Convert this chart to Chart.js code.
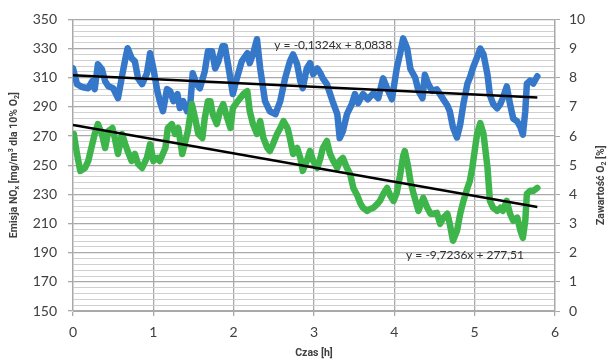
<!DOCTYPE html>
<html>
<head>
<meta charset="utf-8">
<script src="https://cdn.jsdelivr.net/npm/chart.js@4.4.1/dist/chart.umd.min.js"></script>
<style>
  html, body { margin: 0; padding: 0; background: #ffffff; }
  #wrap { width: 612px; height: 364px; }
</style>
</head>
<body>
<div id="wrap"><canvas id="chart" width="612" height="364"></canvas></div>
<script>
// O2 content [%] over time [h] (right axis)
const hoursO2 = [0.00,0.05,0.11,0.19,0.24,0.27,0.31,0.36,0.40,0.44,0.50,0.56,0.61,0.65,0.68,0.73,0.77,0.81,0.86,0.92,0.96,1.00,1.05,1.08,1.12,1.17,1.21,1.25,1.30,1.33,1.37,1.42,1.46,1.49,1.54,1.58,1.64,1.68,1.73,1.77,1.81,1.86,1.89,1.93,1.99,2.04,2.10,2.17,2.20,2.24,2.29,2.33,2.39,2.45,2.52,2.58,2.64,2.70,2.74,2.79,2.83,2.86,2.91,2.95,2.99,3.04,3.08,3.11,3.16,3.23,3.29,3.32,3.36,3.41,3.47,3.51,3.55,3.61,3.67,3.74,3.80,3.86,3.91,3.97,4.03,4.07,4.11,4.16,4.20,4.26,4.30,4.35,4.38,4.42,4.47,4.53,4.60,4.66,4.69,4.73,4.78,4.82,4.86,4.91,4.94,4.98,5.03,5.07,5.11,5.16,5.19,5.23,5.28,5.32,5.35,5.40,5.44,5.48,5.53,5.57,5.60,5.63,5.65,5.69,5.73,5.78];
const o2 = [8.32,7.78,7.68,7.64,7.88,7.61,8.46,8.29,7.88,7.71,7.64,7.30,8.05,8.63,9.01,8.67,8.56,7.98,7.78,8.15,8.84,8.32,7.54,7.20,6.85,7.61,7.54,7.20,7.44,6.96,7.20,6.85,7.09,8.15,7.78,7.64,8.22,8.91,8.91,8.32,8.56,9.08,9.08,8.46,7.44,7.98,8.56,8.84,8.50,8.80,9.32,8.32,7.20,6.85,6.75,7.20,7.98,8.56,8.80,8.46,7.88,7.64,8.32,8.50,8.12,8.32,8.15,7.98,7.78,7.20,6.75,5.93,6.17,6.75,7.09,7.44,7.13,7.44,7.26,7.47,7.30,7.98,7.64,7.26,8.32,8.80,9.35,9.00,8.30,8.00,7.55,7.30,8.10,7.80,7.55,7.60,7.30,7.05,6.85,6.30,5.95,6.40,7.10,7.80,8.00,8.35,8.70,9.00,8.80,8.10,7.40,7.10,6.95,7.10,7.30,7.70,7.10,6.60,6.50,6.30,6.05,6.85,7.80,7.90,7.80,8.05];

// NOx emission [mg/m3 at 10% O2] over time [h] (left axis)
const hoursNOx = [0.01,0.05,0.09,0.15,0.19,0.24,0.27,0.31,0.36,0.40,0.44,0.49,0.52,0.56,0.61,0.65,0.68,0.73,0.77,0.81,0.86,0.92,0.96,1.00,1.05,1.08,1.15,1.18,1.23,1.27,1.31,1.36,1.39,1.43,1.48,1.52,1.56,1.61,1.64,1.68,1.71,1.74,1.79,1.83,1.87,1.92,1.96,1.99,2.05,2.12,2.17,2.20,2.24,2.29,2.33,2.37,2.42,2.45,2.49,2.54,2.58,2.62,2.67,2.70,2.74,2.79,2.83,2.86,2.91,2.95,2.99,3.04,3.08,3.11,3.16,3.20,3.24,3.29,3.32,3.36,3.41,3.45,3.49,3.54,3.58,3.61,3.66,3.70,3.74,3.79,3.82,3.87,3.91,3.95,3.99,4.03,4.07,4.11,4.13,4.17,4.20,4.24,4.30,4.36,4.41,4.45,4.48,4.53,4.57,4.61,4.66,4.69,4.73,4.78,4.82,4.86,4.91,4.94,4.97,5.03,5.07,5.11,5.16,5.19,5.23,5.28,5.32,5.35,5.40,5.44,5.48,5.53,5.57,5.60,5.63,5.65,5.69,5.73,5.78];
const nox = [271.4,257.7,246.1,248.1,252.9,264.5,271.4,278.2,271.4,261.8,273.4,275.5,268.6,257.7,271.4,264.5,259.7,252.9,257.7,250.8,248.1,255.0,264.5,252.9,255.0,252.9,261.8,275.5,278.2,271.4,275.5,257.7,264.5,273.4,291.9,282.3,271.4,268.6,282.3,293.9,293.9,285.0,278.2,287.1,291.9,282.3,275.5,289.1,293.9,298.7,300.8,287.1,278.2,271.4,280.3,268.6,261.8,259.7,264.5,271.4,275.5,280.3,275.5,268.6,257.7,261.8,255.0,246.1,252.9,259.7,252.9,248.1,255.0,261.8,266.6,257.7,252.9,248.1,252.9,255.0,248.1,244.0,234.4,229.0,223.5,220.8,218.7,220.0,220.8,223.5,225.5,231.0,234.4,229.0,225.5,231.0,242.6,256.3,259.7,249.5,239.2,230.3,218.7,227.6,220.8,216.7,216.7,217.3,209.8,213.9,216.7,209.8,198.2,205.0,216.7,225.5,234.4,239.2,248.1,271.4,278.9,271.4,248.1,225.5,220.8,218.7,220.8,218.7,225.5,216.7,211.9,214.0,205.0,200.2,211.9,230.3,232.4,232.4,234.4];

// Linear trend coefficients (slope, intercept)
const trendO2 = { slope: -0.1324, intercept: 8.0838 };
const trendNOx = { slope: -9.7236, intercept: 277.51 };
const trendO2Label = 'y = -0,1324x + 8,0838';
const trendNOxLabel = 'y = -9,7236x + 277,51';

// Axis ticks
const hourTicks = [0, 1, 2, 3, 4, 5, 6];
const noxTicks = [150, 170, 190, 210, 230, 250, 270, 290, 310, 330, 350];
const o2Ticks = [0, 1, 2, 3, 4, 5, 6, 7, 8, 9, 10];

const FONT = 'Lato, "Liberation Sans", Arial, sans-serif';
const TITLE_FONT = 'Roboto, "Liberation Sans", Arial, sans-serif';
const TEXT = '#404040';
const GRID_MAJOR = '#a9a9a9';
const GRID_MINOR = '#d0d0d0';

const toPoints = (xs, ys) => xs.map((x, i) => ({ x: x, y: ys[i] }));
const trendPoints = (xs, t) => [0, xs[xs.length - 1]].map(h => ({ x: h, y: t.slope * h + t.intercept }));

// Draws a line of bold text with subscript / superscript segments, centred on (cx, cy)
function drawRich(ctx, segs, cx, cy, rot, size) {
  ctx.save();
  ctx.translate(cx, cy);
  ctx.rotate(rot);
  ctx.fillStyle = TEXT;
  ctx.textBaseline = 'middle';
  ctx.textAlign = 'left';
  const fontFor = s => 'bold ' + (s.sub || s.sup ? Math.round(size * 0.7) : size) + 'px ' + TITLE_FONT;
  let total = 0;
  segs.forEach(s => { ctx.font = fontFor(s); total += ctx.measureText(s.t).width; });
  let x = -total / 2;
  segs.forEach(s => {
    ctx.font = fontFor(s);
    const dy = s.sub ? size * 0.28 : (s.sup ? -size * 0.3 : 0);
    ctx.fillText(s.t, x, dy);
    x += ctx.measureText(s.t).width;
  });
  ctx.restore();
}

const titlesPlugin = {
  id: 'axisTitlesAndTrendLabels',
  afterDatasetsDraw(chart) {
    const ctx = chart.ctx;
    const { x, y1, y } = chart.scales;
    ctx.save();
    ctx.font = '12px ' + FONT;
    ctx.fillStyle = '#303030';
    ctx.textAlign = 'center';
    ctx.textBaseline = 'middle';
    ctx.fillText(trendO2Label, x.getPixelForValue(3.24), y1.getPixelForValue(9.11));
    ctx.fillText(trendNOxLabel, x.getPixelForValue(4.88), y.getPixelForValue(188.6));
    ctx.restore();
  },
  afterDraw(chart) {
    const ctx = chart.ctx;
    const area = chart.chartArea;
    const midY = (area.top + area.bottom) / 2;
    drawRich(ctx, [
      { t: 'Emisja NO' }, { t: 'x', sub: true }, { t: ' [mg/m' }, { t: '3', sup: true },
      { t: ' dla 10% O' }, { t: '2', sub: true }, { t: ']' }
    ], 14, midY, -Math.PI / 2, 10.5);
    drawRich(ctx, [
      { t: 'Zawartość O' }, { t: '2', sub: true }, { t: ' [%]' }
    ], 601, midY + 20, -Math.PI / 2, 10.5);
    drawRich(ctx, [{ t: 'Czas [h]' }], (area.left + area.right) / 2, 353, 0, 10.5);
  }
};

new Chart(document.getElementById('chart'), {
  type: 'line',
  data: {
    datasets: [
      {
        label: 'trend O2',
        data: trendPoints(hoursO2, trendO2),
        yAxisID: 'y1', borderColor: '#000000', borderWidth: 2.5, pointRadius: 0, order: 0
      },
      {
        label: 'trend NOx',
        data: trendPoints(hoursNOx, trendNOx),
        yAxisID: 'y', borderColor: '#000000', borderWidth: 2.5, pointRadius: 0, order: 0
      },
      {
        label: 'NOx',
        data: toPoints(hoursNOx, nox),
        yAxisID: 'y', borderColor: '#3db54a', borderWidth: 6.5, pointRadius: 0,
        borderJoinStyle: 'round', borderCapStyle: 'round', order: 1
      },
      {
        label: 'O2',
        data: toPoints(hoursO2, o2),
        yAxisID: 'y1', borderColor: '#3577c8', borderWidth: 6.5, pointRadius: 0,
        borderJoinStyle: 'round', borderCapStyle: 'round', order: 2
      }
    ]
  },
  options: {
    responsive: false,
    animation: false,
    events: [],
    layout: { padding: { top: 18, left: 0, right: 0, bottom: 0 } },
    plugins: { legend: { display: false }, tooltip: { enabled: false } },
    scales: {
      x: {
        type: 'linear', min: 0, max: 6,
        afterFit: s => { s.height = 53; },
        border: { color: GRID_MAJOR, width: 1 },
        grid: { color: GRID_MAJOR, lineWidth: 1.3, tickLength: 5, tickColor: GRID_MAJOR },
        ticks: {
          stepSize: 1, padding: 8, color: TEXT, font: { family: FONT, size: 14 },
          callback: v => hourTicks.includes(v) ? String(v) : ''
        }
      },
      y: {
        type: 'linear', position: 'left', min: 150, max: 350,
        afterFit: s => { s.width = 73; },
        border: { color: GRID_MAJOR, width: 1.3 },
        grid: {
          color: c => noxTicks.includes(c.tick.value) ? GRID_MAJOR : GRID_MINOR,
          lineWidth: c => noxTicks.includes(c.tick.value) ? 1.3 : 1,
          tickColor: c => noxTicks.includes(c.tick.value) ? GRID_MAJOR : 'rgba(0,0,0,0)',
          tickLength: 5
        },
        ticks: {
          stepSize: 4, autoSkip: false, padding: 11, color: TEXT, font: { family: FONT, size: 14 },
          callback: v => noxTicks.includes(v) ? String(v) : ''
        }
      },
      y1: {
        type: 'linear', position: 'right', min: 0, max: 10,
        afterFit: s => { s.width = 57; },
        border: { color: GRID_MAJOR, width: 1.3 },
        grid: { drawOnChartArea: false, tickLength: 5, tickColor: GRID_MAJOR, color: GRID_MAJOR },
        ticks: {
          stepSize: 1, autoSkip: false, padding: 9, color: TEXT, font: { family: FONT, size: 14 },
          callback: v => o2Ticks.includes(v) ? String(v) : ''
        }
      }
    }
  },
  plugins: [titlesPlugin]
});
</script>
</body>
</html>
